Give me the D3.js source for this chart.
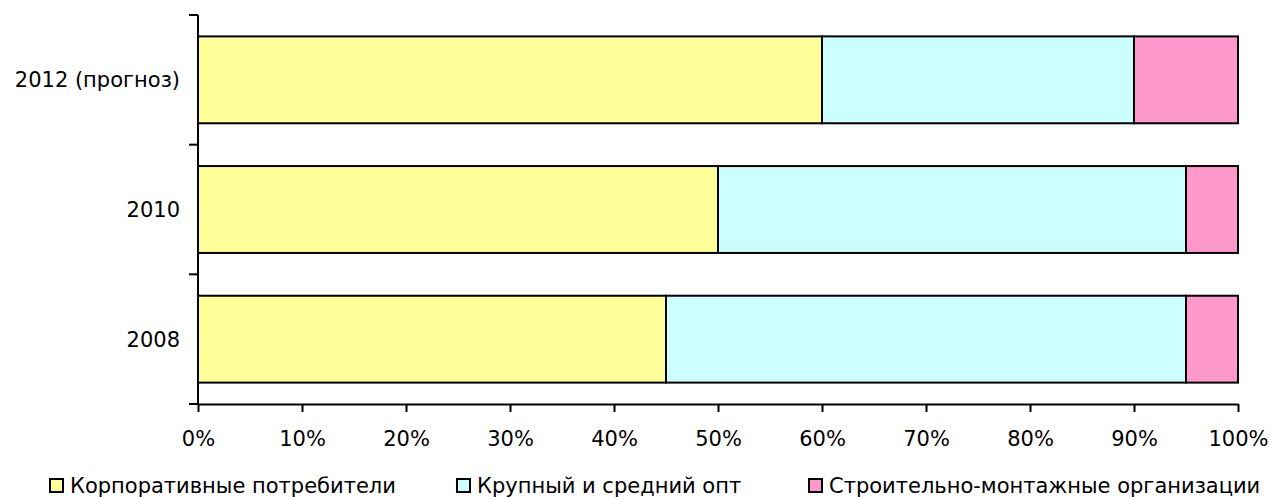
<!DOCTYPE html>
<html>
<head>
<meta charset="utf-8">
<script src="https://cdn.jsdelivr.net/npm/d3@7"></script>
<style>
  body { margin: 0; background: #fff; }
  svg text { font-family: "DejaVu Sans", Verdana, sans-serif; fill: #000; }
</style>
</head>
<body>
<div id="chart"></div>
<script>
// ---------------------------------------------------------------------------//
// Data
// ---------------------------------------------------------------------------//
const categories = ["2012 (прогноз)", "2010", "2008"];
const seriesNames = [
  "Корпоративные потребители",
  "Крупный и средний опт",
  "Строительно-монтажные организации",
];
const corporate = [60, 50, 45];
const wholesale = [30, 45, 50];
const construction = [10, 5, 5];
const xTicks = [0, 10, 20, 30, 40, 50, 60, 70, 80, 90, 100];

const seriesColors = ["#FFFF99", "#CCFFFF", "#FF99CC"];
const fontSize = 21;

// ---------------------------------------------------------------------------//
// Layout
// ---------------------------------------------------------------------------//
const width = 1272;
const height = 497;
const margin = { top: 15, right: 34, bottom: 93, left: 198 };
const innerWidth = width - margin.left - margin.right;
const innerHeight = height - margin.top - margin.bottom;

const svg = d3.select("#chart")
  .append("svg")
  .attr("width", width)
  .attr("height", height);

const g = svg.append("g")
  .attr("transform", `translate(${margin.left},${margin.top})`);

const x = d3.scaleLinear().domain([0, 100]).range([0, innerWidth]);
const y = d3.scaleBand()
  .domain(categories)
  .range([0, innerHeight])
  .paddingInner(0.33)
  .paddingOuter(0.165);

// build stacked rows
const rows = categories.map((c, i) => ({
  cat: c,
  s0: corporate[i],
  s1: wholesale[i],
  s2: construction[i],
}));
const stack = d3.stack().keys(["s0", "s1", "s2"]);
const stacked = stack(rows);

// ---------------------------------------------------------------------------//
// Bars
// ---------------------------------------------------------------------------//
g.selectAll("g.series")
  .data(stacked)
  .join("g")
  .attr("class", "series")
  .attr("fill", (d, i) => seriesColors[i])
  .selectAll("rect")
  .data((d) => d)
  .join("rect")
  .attr("x", (d) => x(d[0]))
  .attr("y", (d) => y(d.data.cat))
  .attr("width", (d) => x(d[1]) - x(d[0]))
  .attr("height", y.bandwidth())
  .attr("stroke", "#000")
  .attr("stroke-width", 2);

// ---------------------------------------------------------------------------//
// Axes
// ---------------------------------------------------------------------------//
const xAxis = g.append("g")
  .attr("transform", `translate(0,${innerHeight})`)
  .call(
    d3.axisBottom(x)
      .tickValues(xTicks)
      .tickFormat((d) => d + "%")
      .tickSize(8)
      .tickSizeOuter(0)
  );
xAxis.attr("font-size", null).attr("font-family", null);
xAxis.select(".domain").attr("stroke-width", 2);
xAxis.selectAll(".tick line").attr("stroke-width", 2);
xAxis.selectAll(".tick text")
  .attr("font-size", fontSize)
  .attr("y", 34.5)
  .attr("dy", "0.36em");

// y axis line with ticks at band boundaries
const yBounds = [0].concat(categories.map((c) => y(c) + y.bandwidth() + y.step() * y.paddingInner() / 2));
yBounds[yBounds.length - 1] = innerHeight;
g.append("line")
  .attr("x1", 0).attr("x2", 0)
  .attr("y1", 0).attr("y2", innerHeight)
  .attr("stroke", "#000")
  .attr("stroke-width", 2);
g.selectAll("line.ytick")
  .data(yBounds)
  .join("line")
  .attr("class", "ytick")
  .attr("x1", -9).attr("x2", 0)
  .attr("y1", (d) => d).attr("y2", (d) => d)
  .attr("stroke", "#000")
  .attr("stroke-width", 2);
g.selectAll("text.ylabel")
  .data(categories)
  .join("text")
  .attr("class", "ylabel")
  .attr("x", -18)
  .attr("y", (d) => y(d) + y.bandwidth() / 2)
  .attr("dy", "0.36em")
  .attr("text-anchor", "end")
  .attr("font-size", fontSize)
  .text((d) => d);

// ---------------------------------------------------------------------------//
// Legend
// ---------------------------------------------------------------------------//
const legendX = [50, 457, 809];
const legend = svg.selectAll("g.legend")
  .data(seriesNames)
  .join("g")
  .attr("class", "legend")
  .attr("transform", (d, i) => `translate(${legendX[i]},479)`);
legend.append("rect")
  .attr("width", 13)
  .attr("height", 13)
  .attr("fill", (d, i) => seriesColors[i])
  .attr("stroke", "#000")
  .attr("stroke-width", 2);
legend.append("text")
  .attr("x", 20)
  .attr("y", 6)
  .attr("dy", "0.36em")
  .attr("font-size", fontSize)
  .text((d) => d);
</script>
</body>
</html>
